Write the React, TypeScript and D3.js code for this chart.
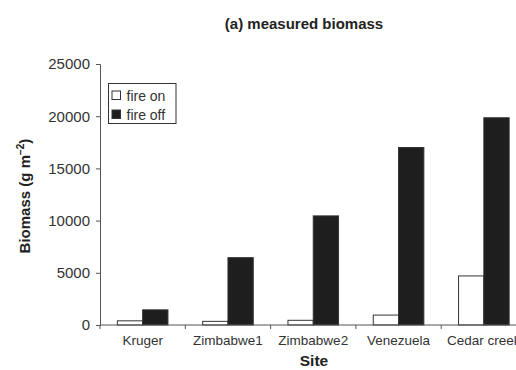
import * as d3 from "d3";
import { useEffect, useRef } from "react";

const sites = ["Kruger", "Zimbabwe1", "Zimbabwe2", "Venezuela", "Cedar creek"];
const fireOn = [400, 350, 450, 950, 4700];
const fireOff = [1450, 6450, 10450, 17000, 19850];
const yTicks = [0, 5000, 10000, 15000, 20000, 25000];
const seriesNames = ["fire on", "fire off"];
const seriesFill = ["#ffffff", "#1e1e1e"];

export default function App() {
  const ref = useRef<SVGSVGElement>(null);

  useEffect(() => {
    const width = 516;
    const height = 370;
    const margin = { top: 64, right: 0, bottom: 45, left: 100 };
    const step = 85.3;

    const svg = d3.select(ref.current);
    svg.selectAll("*").remove();
    svg.attr("width", width).attr("height", height);

    const font = "'Liberation Sans', Arial, Helvetica, sans-serif";

    const x0 = d3
      .scaleBand()
      .domain(sites)
      .range([margin.left, margin.left + step * sites.length])
      .padding(0);
    const x1 = d3
      .scaleBand()
      .domain(seriesNames)
      .range([0, x0.bandwidth()])
      .paddingInner(0)
      .paddingOuter(0.686);
    const y = d3
      .scaleLinear()
      .domain([0, 25000])
      .range([height - margin.bottom, margin.top]);

    const rows = sites.map((s, i) => ({ site: s, values: [fireOn[i], fireOff[i]] }));

    // bars
    const groups = svg
      .append("g")
      .selectAll("g")
      .data(rows)
      .join("g")
      .attr("transform", (d) => `translate(${x0(d.site)},0)`);
    groups
      .selectAll("rect")
      .data((d) => d.values.map((v, j) => ({ v, j })))
      .join("rect")
      .attr("x", (d) => x1(seriesNames[d.j])!)
      .attr("y", (d) => y(d.v))
      .attr("width", x1.bandwidth())
      .attr("height", (d) => y(0) - y(d.v))
      .attr("fill", (d) => seriesFill[d.j])
      .attr("stroke", "#333")
      .attr("stroke-width", 1);

    // y axis
    const yAxis = svg
      .append("g")
      .attr("transform", `translate(${margin.left},0)`)
      .call(d3.axisLeft(y).tickValues(yTicks).tickSize(4).tickPadding(6).tickFormat(d3.format("d")));
    yAxis.select(".domain").attr("stroke", "#555");
    yAxis.selectAll(".tick line").attr("stroke", "#555");
    yAxis
      .selectAll(".tick text")
      .attr("fill", "#333")
      .style("font-family", font)
      .style("font-size", "15px");

    // x axis
    const xAxis = svg
      .append("g")
      .attr("transform", `translate(0,${y(0)})`);
    xAxis
      .append("line")
      .attr("x1", margin.left)
      .attr("x2", width)
      .attr("stroke", "#555");
    xAxis
      .selectAll(".xtick")
      .data(sites)
      .join("line")
      .attr("class", "xtick")
      .attr("x1", (d) => x0(d)!)
      .attr("x2", (d) => x0(d)!)
      .attr("y2", 4)
      .attr("stroke", "#555");
    xAxis
      .selectAll(".xlabel")
      .data(sites)
      .join("text")
      .attr("class", "xlabel")
      .attr("x", (d) => x0(d)! + x0.bandwidth() / 2)
      .attr("y", 20)
      .attr("text-anchor", "middle")
      .attr("fill", "#333")
      .style("font-family", font)
      .style("font-size", "13.5px")
      .text((d) => d);

    // titles
    svg
      .append("text")
      .attr("x", 304)
      .attr("y", 29)
      .attr("text-anchor", "middle")
      .attr("fill", "#222")
      .style("font-family", font)
      .style("font-size", "15px")
      .style("font-weight", "bold")
      .text("(a) measured biomass");
    svg
      .append("text")
      .attr("x", 314)
      .attr("y", 366)
      .attr("text-anchor", "middle")
      .attr("fill", "#222")
      .style("font-family", font)
      .style("font-size", "15.5px")
      .style("font-weight", "bold")
      .text("Site");
    const yl = svg
      .append("text")
      .attr("transform", "translate(30,196) rotate(-90)")
      .attr("text-anchor", "middle")
      .attr("fill", "#222")
      .style("font-family", font)
      .style("font-size", "15px")
      .style("font-weight", "bold");
    yl.append("tspan").text("Biomass (g m");
    yl.append("tspan").attr("dy", -6).style("font-size", "10px").text("\u22122");
    yl.append("tspan").attr("dy", 6).text(")");

    // legend
    const lg = svg.append("g").attr("transform", "translate(108.5,83.5)");
    lg.append("rect")
      .attr("width", 67.5)
      .attr("height", 40)
      .attr("fill", "#fff")
      .attr("stroke", "#333");
    seriesNames.forEach((name, i) => {
      lg.append("rect")
        .attr("x", 3.5)
        .attr("y", 7.5 + i * 19)
        .attr("width", 8.5)
        .attr("height", 8.5)
        .attr("fill", seriesFill[i])
        .attr("stroke", "#333");
      lg.append("text")
        .attr("x", 18)
        .attr("y", 17 + i * 19)
        .attr("fill", "#333")
        .style("font-family", font)
        .style("font-size", "14px")
        .text(name);
    });
  });

  return (
    <div style={{ position: "absolute", left: 0, top: 0 }}>
      <svg ref={ref} style={{ display: "block", background: "#fff" }} />
    </div>
  );
}
